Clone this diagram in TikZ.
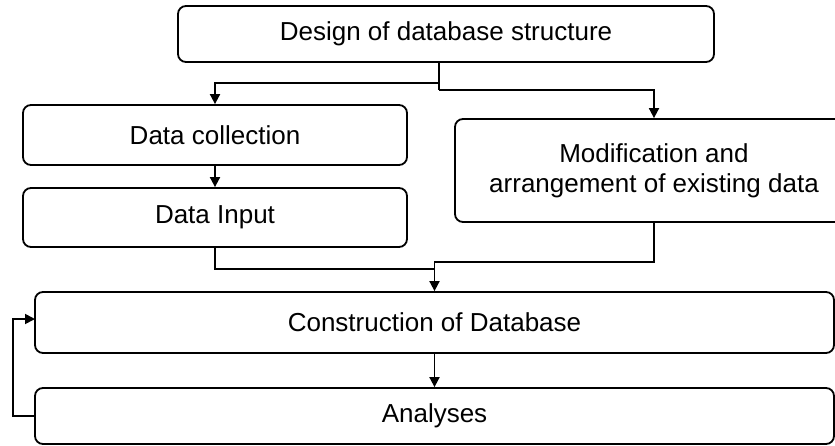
\documentclass[tikz,border=0pt]{standalone}
\usepackage{fontspec}
\setmainfont{Liberation Sans}
\usetikzlibrary{arrows.meta,calc}

\tikzset{
  stage/.style={draw=black, line width=1.8pt, rounded corners=8pt,
    fill=white, inner sep=0pt, align=center,
    font=\fontsize{26}{30}\selectfont},
  link/.style={draw=black, line width=1.8pt},
  arr/.style={link, -{Triangle[length=10pt,width=10pt]}}
}

\begin{document}
\begin{tikzpicture}[x=1pt, y=-1pt]
  \clip (0,0) rectangle (835,445);
  \fill[white] (0,0) rectangle (835,445);

  % process stages
  \node[stage, minimum width=536pt, minimum height=56pt] (design) at (446,34) {Design of database structure};
  \node[stage, minimum width=384pt, minimum height=60pt] (collect) at (215,135) {Data collection};
  \node[stage, minimum width=384pt, minimum height=59pt] (input) at (215,217.5) {Data Input};
  \node[stage, minimum width=398pt, minimum height=103pt] (modify) at (654,170.5) {Modification and\\arrangement of existing data};
  \node[stage, minimum width=799pt, minimum height=61pt] (build) at (434.5,322.5) {Construction of Database};
  \node[stage, minimum width=799pt, minimum height=56pt] (analyse) at (434.5,416) {Analyses};

  % branch points
  \coordinate (split) at (439,90);
  \coordinate (leftfork) at (439,83);
  \coordinate (merge) at (434.5,262);
  \coordinate (join) at (434.5,269);
  \coordinate (loop) at (13,416);
  \coordinate (loopin) at (35,319);

  % design -> two branches
  \draw[link] (design.south -| split) -- (split);
  \draw[arr] (split) -| (modify.north);
  \draw[arr] (leftfork) -| (collect.north);

  % new data path
  \draw[arr] (collect.south) -- (input.north);
  \draw[link] (input.south) |- (join);

  % existing data path, merged into construction
  \draw[arr] (modify.south) |- (merge) -- (build.north);

  % construction -> analyses, with feedback
  \draw[arr] (build.south) -- (analyse.north);
  \draw[arr] (analyse.west) -- (loop) |- (loopin);
\end{tikzpicture}
\end{document}
